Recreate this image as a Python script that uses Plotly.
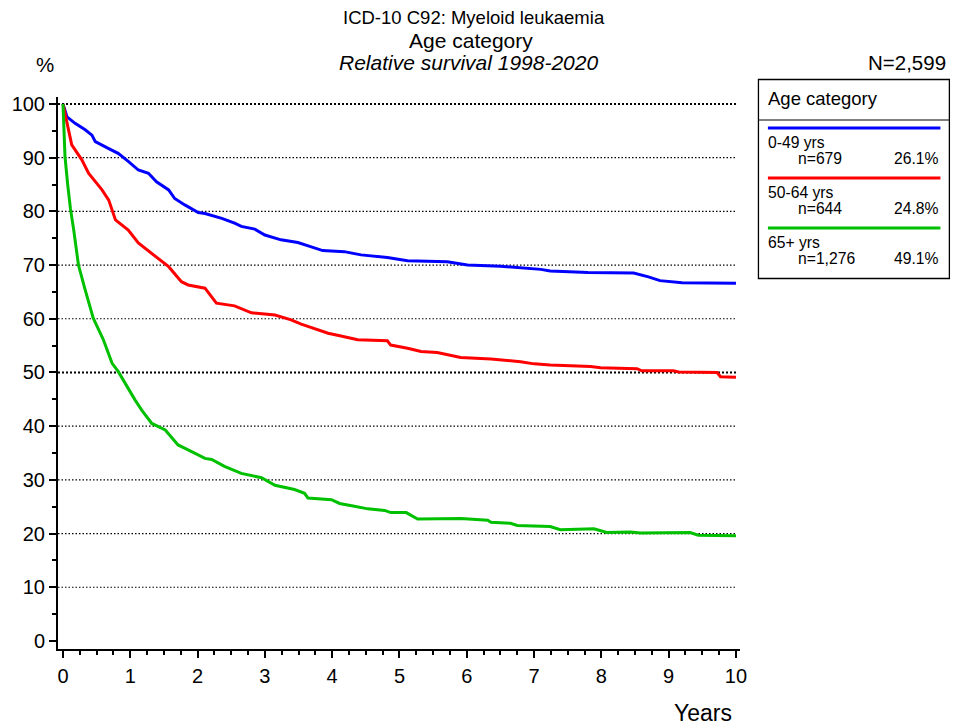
import plotly.graph_objects as go

# ---------------- data ----------------
series_names = ["0-49 yrs", "50-64 yrs", "65+ yrs"]
series_n = ["n=679", "n=644", "n=1,276"]
series_pct = ["26.1%", "24.8%", "49.1%"]
series_colors = ["#0000ff", "#ff0000", "#00c000"]

years_0_49 = [0, 0.06, 0.18, 0.33, 0.43, 0.48, 0.68, 0.82, 0.97, 1.12, 1.27, 1.39, 1.57, 1.66,
              1.81, 2.01, 2.11, 2.36, 2.55, 2.65, 2.85, 3.0, 3.24, 3.49, 3.69, 3.86, 4.18, 4.43,
              4.82, 5.12, 5.71, 6.01, 6.5, 7.1, 7.24, 7.8, 8.48, 8.7, 8.87, 9.2, 10.0]
surv_0_49 = [100, 97.6, 96.4, 95.2, 94.2, 93.0, 91.7, 90.8, 89.3, 87.7, 87.1, 85.5, 84.0, 82.4,
             81.2, 79.8, 79.6, 78.7, 77.8, 77.2, 76.7, 75.6, 74.7, 74.2, 73.4, 72.7, 72.5, 71.9,
             71.4, 70.8, 70.6, 70.0, 69.8, 69.2, 68.9, 68.6, 68.5, 67.8, 67.1, 66.7, 66.6]

years_50_64 = [0, 0.06, 0.13, 0.28, 0.38, 0.58, 0.68, 0.78, 0.97, 1.12, 1.32, 1.57, 1.76, 1.86,
               2.11, 2.28, 2.55, 2.8, 3.15, 3.39, 3.54, 3.74, 3.94, 4.13, 4.38, 4.82, 4.87, 5.12,
               5.32, 5.56, 5.71, 5.91, 6.36, 6.8, 7.0, 7.24, 7.84, 7.99, 8.53, 8.6, 9.07, 9.15,
               9.72, 9.77, 10.0]
surv_50_64 = [100, 96.4, 92.4, 89.6, 87.1, 84.0, 82.1, 78.4, 76.5, 74.1, 72.2, 69.7, 66.9, 66.3,
              65.7, 62.9, 62.4, 61.1, 60.7, 59.8, 59.0, 58.2, 57.3, 56.8, 56.1, 55.9, 55.1, 54.5,
              53.9, 53.7, 53.3, 52.8, 52.5, 52.0, 51.6, 51.4, 51.1, 50.9, 50.7, 50.3, 50.3, 50.1,
              50.0, 49.2, 49.1]

years_65 = [0, 0.03, 0.07, 0.11, 0.16, 0.23, 0.33, 0.45, 0.6, 0.73, 0.82, 0.95, 1.07, 1.17, 1.32,
            1.52, 1.71, 1.86, 2.11, 2.21, 2.4, 2.65, 2.95, 3.15, 3.44, 3.59, 3.64, 3.99, 4.11,
            4.33, 4.53, 4.78, 4.87, 5.1, 5.27, 5.91, 6.31, 6.36, 6.65, 6.75, 7.24, 7.39, 7.89,
            8.08, 8.43, 8.58, 9.32, 9.44, 10.0]
surv_65 = [100, 90.2, 85.0, 80.6, 76.5, 70.0, 65.4, 60.1, 56.1, 51.7, 50.2, 47.4, 44.9, 43.0,
           40.5, 39.3, 36.5, 35.6, 34.0, 33.8, 32.5, 31.2, 30.4, 29.0, 28.2, 27.5, 26.6, 26.3,
           25.6, 25.1, 24.6, 24.3, 23.9, 23.9, 22.7, 22.8, 22.5, 22.1, 21.9, 21.5, 21.3, 20.7,
           20.9, 20.2, 20.3, 20.1, 20.2, 19.7, 19.6]

x_series = [years_0_49, years_50_64, years_65]
y_series = [surv_0_49, surv_50_64, surv_65]

y_ticks = list(range(0, 101, 10))
x_ticks = list(range(0, 11))

# ---------------- layout geometry ----------------
W, H = 953, 728
ML, MR, MT, MB = 56, 213, 97, 79
XR = [-0.074, 10.06]
YR = [-1.5, 101.3]
FONT = "Arial, Liberation Sans, sans-serif"


def px(x):
    return (x - ML) / (W - ML - MR)


def py(y):
    return 1 - (y - MT) / (H - MT - MB)


fig = go.Figure()
for xs, ys, c, name in zip(x_series, y_series, series_colors, series_names):
    fig.add_trace(go.Scatter(x=xs, y=ys, mode="lines", name=name,
                             line=dict(color=c, width=3), showlegend=False))

shapes = []
# dotted gridlines
for v in y_ticks[1:]:
    thick = v in (50, 100)
    shapes.append(dict(type="line", xref="x", yref="y", x0=XR[0], x1=10, y0=v, y1=v,
                       line=dict(color="black", width=2 if thick else 1.2,
                                 dash="2px,2px" if thick else "1.5px,2px"),
                       layer="below"))

# legend box
lx0, lx1, ly0, ly1 = 758.5, 950, 79.5, 278.5
shapes.append(dict(type="rect", xref="paper", yref="paper", x0=px(lx0), x1=px(lx1),
                   y0=py(ly1), y1=py(ly0), line=dict(color="black", width=1.3)))
shapes.append(dict(type="line", xref="paper", yref="paper", x0=px(lx0), x1=px(lx1),
                   y0=py(120), y1=py(120), line=dict(color="black", width=1)))
annotations = []
annotations.append(dict(text="Age category", x=px(766), y=py(98.5), xref="paper", yref="paper",
                        xanchor="left", yanchor="middle", showarrow=False,
                        font=dict(size=18.5, family=FONT, color="black")))
line_y = [128, 178, 228]
for i, (name, n, pct, c) in enumerate(zip(series_names, series_n, series_pct, series_colors)):
    yy = line_y[i]
    shapes.append(dict(type="line", xref="paper", yref="paper", x0=px(768), x1=px(941),
                       y0=py(yy), y1=py(yy), line=dict(color=c, width=3)))
    annotations.append(dict(text=name, x=px(766), y=py(yy + 14.5), xref="paper", yref="paper",
                            xanchor="left", yanchor="middle", showarrow=False,
                            font=dict(size=15.7, family=FONT, color="black")))
    annotations.append(dict(text=n, x=px(796), y=py(yy + 30), xref="paper", yref="paper",
                            xanchor="left", yanchor="middle", showarrow=False,
                            font=dict(size=15.7, family=FONT, color="black")))
    annotations.append(dict(text=pct, x=px(942), y=py(yy + 30), xref="paper", yref="paper",
                            xanchor="right", yanchor="middle", showarrow=False,
                            font=dict(size=15.7, family=FONT, color="black")))

# titles
annotations += [
    dict(text="ICD-10 C92: Myeloid leukaemia", x=px(473), y=py(18), xref="paper", yref="paper",
         xanchor="center", yanchor="middle", showarrow=False,
         font=dict(size=18.5, family=FONT, color="black")),
    dict(text="Age category", x=px(470), y=py(40), xref="paper", yref="paper",
         xanchor="center", yanchor="middle", showarrow=False,
         font=dict(size=21, family=FONT, color="black")),
    dict(text="<i>Relative survival 1998-2020</i>", x=px(468), y=py(62), xref="paper",
         yref="paper", xanchor="center", yanchor="middle", showarrow=False,
         font=dict(size=21, family=FONT, color="black")),
    dict(text="N=2,599", x=px(949), y=py(62), xref="paper", yref="paper",
         xanchor="right", yanchor="middle", showarrow=False,
         font=dict(size=20.5, family=FONT, color="black")),
    dict(text="%", x=px(43), y=py(64), xref="paper", yref="paper",
         xanchor="center", yanchor="middle", showarrow=False,
         font=dict(size=20.5, family=FONT, color="black")),
    dict(text="Years", x=px(734), y=py(713), xref="paper", yref="paper",
         xanchor="right", yanchor="middle", showarrow=False,
         font=dict(size=23, family=FONT, color="black")),
]

fig.update_layout(
    width=W, height=H,
    margin=dict(l=ML, r=MR, t=MT, b=MB, pad=0),
    paper_bgcolor="white", plot_bgcolor="white",
    shapes=shapes, annotations=annotations,
    xaxis=dict(range=XR, tickmode="array", tickvals=x_ticks, ticktext=[str(v) for v in x_ticks],
               showgrid=False, zeroline=False, showline=True, linecolor="black", linewidth=2,
               ticks="outside", ticklen=7, tickwidth=2, tickcolor="black",
               minor=dict(tickmode="linear", tick0=0, dtick=0.25, ticks="outside", ticklen=4,
                          tickwidth=1.5, tickcolor="black", showgrid=False),
               tickfont=dict(size=20, family=FONT, color="black"), ticklabelstandoff=1,
               fixedrange=True),
    yaxis=dict(range=YR, tickmode="array", tickvals=y_ticks, ticktext=[str(v) for v in y_ticks],
               showgrid=False, zeroline=False, showline=True, linecolor="black", linewidth=2,
               ticks="outside", ticklen=7, tickwidth=2, tickcolor="black",
               minor=dict(tickmode="linear", tick0=0, dtick=5, ticks="outside", ticklen=4,
                          tickwidth=1.5, tickcolor="black", showgrid=False),
               tickfont=dict(size=20, family=FONT, color="black"),
               fixedrange=True),
    showlegend=False,
)

fig.write_html("out.html", config={"displayModeBar": False},
               post_script="document.body.style.margin='0';document.body.style.overflow='hidden';")
